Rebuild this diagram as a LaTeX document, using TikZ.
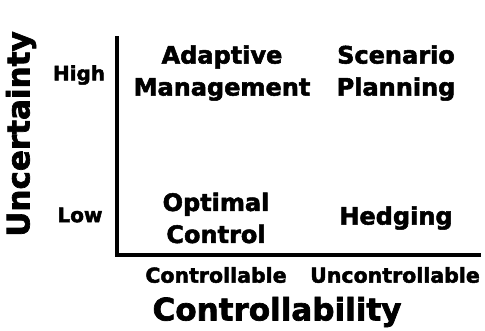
\documentclass[tikz,border=0pt]{standalone}
\usepackage{fontspec}
\setmainfont{DejaVu Sans}[BoldFeatures={FakeBold=2.2}]
\begin{document}
\begin{tikzpicture}[x=1pt,y=-1pt,
  lbl/.style={inner sep=0pt,align=center,font=\bfseries\fontsize{24}{32}\selectfont},
  lvl/.style={inner sep=0pt,font=\bfseries\fontsize{20}{22}\selectfont},
  cat/.style={inner sep=0pt,font=\bfseries\fontsize{20.5}{24}\selectfont},
  axtitle/.style={inner sep=0pt,font=\bfseries\fontsize{31}{36}\selectfont},
  axis/.style={line width=4pt,line cap=rect}]
\useasboundingbox (0,0) rectangle (485,330);
\coordinate (top) at (117,38);
\coordinate (origin) at (117,255);
\coordinate (right) at (479,255);
\draw[axis] (top) -- (origin) -- (right);
\node[axtitle,rotate=90] (uncert) at (21,134) {Uncertainty};
\node[lvl] (high) at (79,75) {High};
\node[lvl] (low) at (80,215) {Low};
\node[lbl] (am) at (222,73) {Adaptive\\Management};
\node[lbl] (sp) at (396,73) {Scenario\\Planning};
\node[lbl] (oc) at (216,218) {Optimal\\Control};
\node[lbl] (hedge) at (396,218) {Hedging};
\node[cat] (ctrl) at (216,275) {Controllable};
\node[cat] (unctrl) at (395,275) {Uncontrollable};
\node[axtitle] (ctrlty) at (277,312) {Controllability};
\end{tikzpicture}
\end{document}
